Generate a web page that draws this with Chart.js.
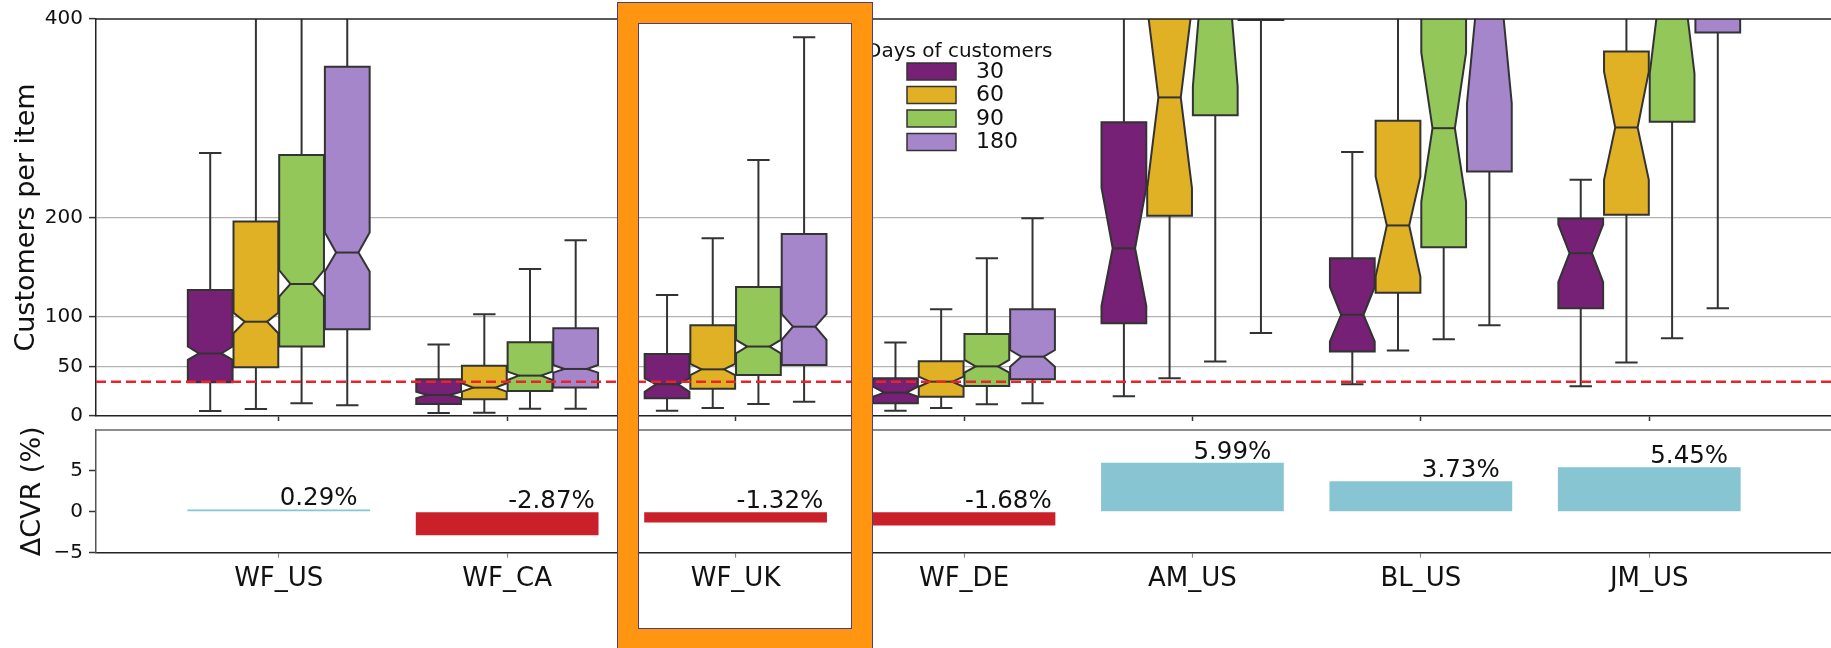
<!DOCTYPE html>
<html>
<head>
<meta charset="utf-8">
<script src="https://cdn.jsdelivr.net/npm/chart.js@4.4.1/dist/chart.umd.min.js"></script>
<style>
  html, body { margin: 0; padding: 0; background: #fff; overflow: hidden; width: 1831px; height: 648px; }
  #wrap { position: relative; width: 1831px; height: 648px; overflow: hidden; background: #fff; }
  #wrap canvas { position: absolute; left: 0; }
  #boxCanvas { top: 0; }
  #cvrCanvas { top: 425px; }
  #highlight {
    position: absolute; left: 618px; top: 3px; width: 254px; height: 646px;
    box-sizing: border-box; border: 20px solid #FF9511;
    box-shadow: 0 0 0 1px #4a3f86, inset 0 0 0 1px #4a3f86;
    pointer-events: none;
  }
</style>
</head>
<body>
<div id="wrap">
  <canvas id="boxCanvas" width="1832" height="425"></canvas>
  <canvas id="cvrCanvas" width="1832" height="223"></canvas>
  <div id="highlight"></div>
</div>
<script>
// Sites on the shared x axis
const categories = ['WF_US', 'WF_CA', 'WF_UK', 'WF_DE', 'AM_US', 'BL_US', 'JM_US'];
// Customer window lengths (legend entries)
const dayGroups = ['30', '60', '90', '180'];
const dayColors = ['#762175', '#E0B124', '#94C75A', '#A686CB'];

// Box statistics per site: [whisker low, Q1, notch low, median, notch high, Q3, whisker high]
const box30 = [
  [5, 34, 56.5, 63, 70, 127, 265],
  [3, 12, 18, 21.2, 24.5, 37, 72],
  [5.4, 18, 24.5, 32, 38, 62.5, 122],
  [5.4, 12.8, 19.5, 23.5, 29.5, 38, 74],
  [20, 93.5, 111, 169, 230, 296, 700],
  [32, 65, 75, 102, 130, 159, 266],
  [30, 108.6, 135, 164, 193, 199, 238]
];
const box60 = [
  [7, 49, 83.4, 95, 104, 196, 700],
  [3.4, 16.8, 24.5, 28.6, 33, 50.7, 102.5],
  [8, 27.5, 41.3, 47, 52.4, 91.4, 179],
  [8, 19.5, 29.5, 34.6, 39.6, 55.2, 107.6],
  [38, 201.7, 229.6, 321, 412, 480, 900],
  [66, 124.3, 140.5, 192, 241.3, 297.5, 700],
  [54, 202.7, 238, 290.7, 347, 367.3, 700]
];
const box90 = [
  [12.8, 70, 120.3, 133, 147, 263, 700],
  [7.4, 25.2, 36.3, 40.7, 44.7, 74.3, 148],
  [12, 41.3, 63.2, 70, 76.6, 130, 258],
  [11.8, 30.2, 43.7, 50, 56.5, 82.7, 159],
  [54.8, 303, 332, 468, 604, 620, 900],
  [77.3, 170, 216, 290, 366, 450, 800],
  [78.3, 296.4, 345, 438, 531, 560, 900]
];
const box180 = [
  [10.8, 87.4, 145.5, 164.7, 185, 352, 700],
  [7.4, 28.6, 43.7, 47.4, 51.4, 88.4, 177],
  [14.4, 51.4, 76.6, 90, 102.8, 183.5, 381.5],
  [12.8, 37, 49.7, 59.8, 66.5, 107.6, 199.3],
  [83.7, 399, 450, 520, 590, 650, 900],
  [91.4, 246.3, 315, 433, 551, 600, 900],
  [108.6, 386.5, 420, 480, 540, 600, 900]
];
const boxSets = [box30, box60, box90, box180];

// Change in conversion rate per site (%)
const cvrDelta = [0.29, -2.87, -1.32, -1.68, 5.99, 3.73, 5.45];

// Axis ticks and the reference threshold
const customerTicks = [0, 50, 100, 200, 400];
const customerGridTicks = [50, 100, 200];
const cvrTicks = [-5, 0, 5];
const thresholdLine = 34.5;

const FONT = 'DejaVu Sans';
const EDGE = '#333333';
const TEXT = '#111111';

// Fixed axis sizes, without the automatic label-overflow padding
const fixWidth = w => s => { s.width = w; s.paddingTop = 0; s.paddingBottom = 0; };
const fixHeight = h => s => { s.height = h; s.paddingLeft = 0; s.paddingRight = 0; };

// Notched boxes, whiskers and caps, positioned by the bar elements and the y scale
const notchedBoxes = {
  id: 'notchedBoxes',
  afterDatasetsDraw(chart) {
    const { ctx, chartArea: a, scales: { y } } = chart;
    ctx.save();
    ctx.beginPath();
    ctx.rect(a.left, a.top, a.right - a.left, a.bottom - a.top);
    ctx.clip();
    ctx.lineWidth = 2;
    ctx.strokeStyle = EDGE;
    ctx.lineJoin = 'miter';
    chart.data.datasets.forEach((ds, di) => {
      const meta = chart.getDatasetMeta(di);
      const stats = boxSets[di];
      meta.data.forEach((bar, i) => {
        const [lo, q1, nlo, med, nhi, q3, hi] = stats[i].map(v => y.getPixelForValue(v));
        const cx = bar.x, hw = bar.width / 2, cw = hw / 2;
        const L = cx - hw, R = cx + hw;
        ctx.beginPath();
        ctx.moveTo(cx, q1); ctx.lineTo(cx, lo);
        ctx.moveTo(cx, q3); ctx.lineTo(cx, hi);
        ctx.moveTo(cx - cw, lo); ctx.lineTo(cx + cw, lo);
        ctx.moveTo(cx - cw, hi); ctx.lineTo(cx + cw, hi);
        ctx.stroke();
        ctx.beginPath();
        ctx.moveTo(L, q1); ctx.lineTo(R, q1); ctx.lineTo(R, nlo);
        ctx.lineTo(cx + cw, med); ctx.lineTo(R, nhi); ctx.lineTo(R, q3);
        ctx.lineTo(L, q3); ctx.lineTo(L, nhi); ctx.lineTo(cx - cw, med);
        ctx.lineTo(L, nlo); ctx.closePath();
        ctx.fillStyle = ds.boxColor;
        ctx.fill();
        ctx.stroke();
        ctx.beginPath();
        ctx.moveTo(cx - cw, med); ctx.lineTo(cx + cw, med);
        ctx.stroke();
      });
    });
    ctx.restore();
  }
};

// Dashed threshold, top frame line and the hue legend
const boxOverlay = {
  id: 'boxOverlay',
  afterDraw(chart) {
    const { ctx, chartArea: a, scales: { y } } = chart;
    const py = y.getPixelForValue(thresholdLine);
    ctx.save();
    ctx.strokeStyle = '#E8232A';
    ctx.lineWidth = 2.5;
    ctx.setLineDash([10, 5]);
    ctx.beginPath(); ctx.moveTo(a.left, py); ctx.lineTo(a.right, py); ctx.stroke();
    ctx.setLineDash([]);
    ctx.strokeStyle = '#222';
    ctx.lineWidth = 1.5;
    ctx.beginPath(); ctx.moveTo(a.left, a.top); ctx.lineTo(a.right, a.top); ctx.stroke();

    // legend
    ctx.fillStyle = TEXT;
    ctx.font = '20px "' + FONT + '"';
    ctx.textAlign = 'left';
    ctx.textBaseline = 'alphabetic';
    ctx.fillText('Days of customers', 866, 57);
    ctx.font = '22px "' + FONT + '"';
    ctx.textBaseline = 'middle';
    dayGroups.forEach((g, k) => {
      const top = 63 + k * 23.5;
      ctx.fillStyle = dayColors[k];
      ctx.fillRect(907, top, 49, 17);
      ctx.strokeStyle = EDGE;
      ctx.lineWidth = 1.5;
      ctx.strokeRect(907, top, 49, 17);
      ctx.fillStyle = TEXT;
      ctx.fillText(g, 976, top + 9);
    });
    ctx.restore();
  }
};

new Chart(document.getElementById('boxCanvas'), {
  type: 'bar',
  data: {
    datasets: boxSets.map((set, k) => ({
      label: dayGroups[k],
      data: set.map((b, i) => ({ x: i, y: [b[1], b[5]] })),
      backgroundColor: 'rgba(0,0,0,0)',
      borderWidth: 0,
      boxColor: dayColors[k],
      categoryPercentage: 0.8,
      barPercentage: 0.98
    }))
  },
  options: {
    responsive: false,
    animation: false,
    devicePixelRatio: 1,
    layout: { padding: { top: 19, left: 0, right: 0, bottom: 0 } },
    plugins: { legend: { display: false }, tooltip: { enabled: false } },
    scales: {
      x: {
        type: 'linear', min: -0.8, max: 6.8, offset: false,
        afterBuildTicks: s => { s.ticks = categories.map((_, i) => ({ value: i })); },
        ticks: { display: false },
        grid: { offset: false, drawOnChartArea: false, drawTicks: true, tickLength: 5, tickColor: '#333', tickWidth: 1.5 },
        border: { display: true, color: '#222', width: 1.5 },
        afterFit: fixHeight(9)
      },
      y: {
        min: 0, max: 400, z: 1,
        afterBuildTicks: s => { s.ticks = customerTicks.map(v => ({ value: v })); },
        ticks: { font: { family: FONT, size: 20 }, color: TEXT, padding: 6 },
        grid: {
          color: c => (c.tick && customerGridTicks.includes(c.tick.value)) ? '#b3b3b3' : 'rgba(0,0,0,0)',
          lineWidth: 1.2, tickLength: 7, tickColor: '#333', tickWidth: 1.5
        },
        border: { color: '#222', width: 1.5 },
        title: { display: true, text: 'Customers per item', font: { family: FONT, size: 27 }, color: TEXT, padding: { top: 11 } },
        afterFit: fixWidth(96)
      }
    }
  },
  plugins: [notchedBoxes, boxOverlay]
});

// Value labels and top frame line for the conversion-rate panel
const cvrOverlay = {
  id: 'cvrOverlay',
  afterDraw(chart) {
    const { ctx, chartArea: a, scales: { x, y } } = chart;
    ctx.save();
    ctx.strokeStyle = '#666';
    ctx.lineWidth = 1.5;
    ctx.beginPath(); ctx.moveTo(a.left, a.top); ctx.lineTo(a.right, a.top); ctx.stroke();
    ctx.fillStyle = TEXT;
    ctx.font = '24.5px "' + FONT + '"';
    ctx.textAlign = 'left';
    ctx.textBaseline = 'alphabetic';
    cvrDelta.forEach((v, i) => {
      ctx.fillText(v.toFixed(2) + '%', x.getPixelForValue(i) + 1, y.getPixelForValue(Math.max(v, 0)) - 4.2);
    });
    ctx.restore();
  }
};

new Chart(document.getElementById('cvrCanvas'), {
  type: 'bar',
  data: {
    datasets: [{
      label: 'ΔCVR',
      data: cvrDelta.map((v, i) => ({ x: i, y: v })),
      backgroundColor: cvrDelta.map(v => v >= 0 ? '#86C5D1' : '#C9202A'),
      borderWidth: 0,
      categoryPercentage: 1,
      barPercentage: 0.8
    }]
  },
  options: {
    responsive: false,
    animation: false,
    devicePixelRatio: 1,
    layout: { padding: { top: 5, left: 0, right: 0, bottom: 0 } },
    plugins: { legend: { display: false }, tooltip: { enabled: false } },
    scales: {
      x: {
        type: 'linear', min: -0.8, max: 6.8, offset: false,
        afterBuildTicks: s => { s.ticks = categories.map((_, i) => ({ value: i })); },
        ticks: {
          font: { family: FONT, size: 26 }, color: TEXT, padding: 6,
          autoSkip: false, maxRotation: 0, minRotation: 0,
          callback: v => categories[v]
        },
        grid: { offset: false, drawOnChartArea: false, drawTicks: true, tickLength: 5, tickColor: '#888', tickWidth: 1.2 },
        border: { display: true, color: '#222', width: 1.5 },
        afterFit: fixHeight(95.3)
      },
      y: {
        min: -5, max: 10,
        afterBuildTicks: s => { s.ticks = cvrTicks.map(v => ({ value: v })); },
        ticks: { font: { family: FONT, size: 20 }, color: TEXT, padding: 6, callback: v => String(v).replace('-', '\u2212') },
        grid: { drawOnChartArea: false, drawTicks: true, tickLength: 7, tickColor: '#333', tickWidth: 1.5 },
        border: { color: '#555', width: 1.5 },
        title: { display: true, text: 'ΔCVR (%)', font: { family: FONT, size: 27 }, color: TEXT, padding: { top: 17 } },
        afterFit: fixWidth(96)
      }
    }
  },
  plugins: [cvrOverlay]
});
</script>
</body>
</html>
